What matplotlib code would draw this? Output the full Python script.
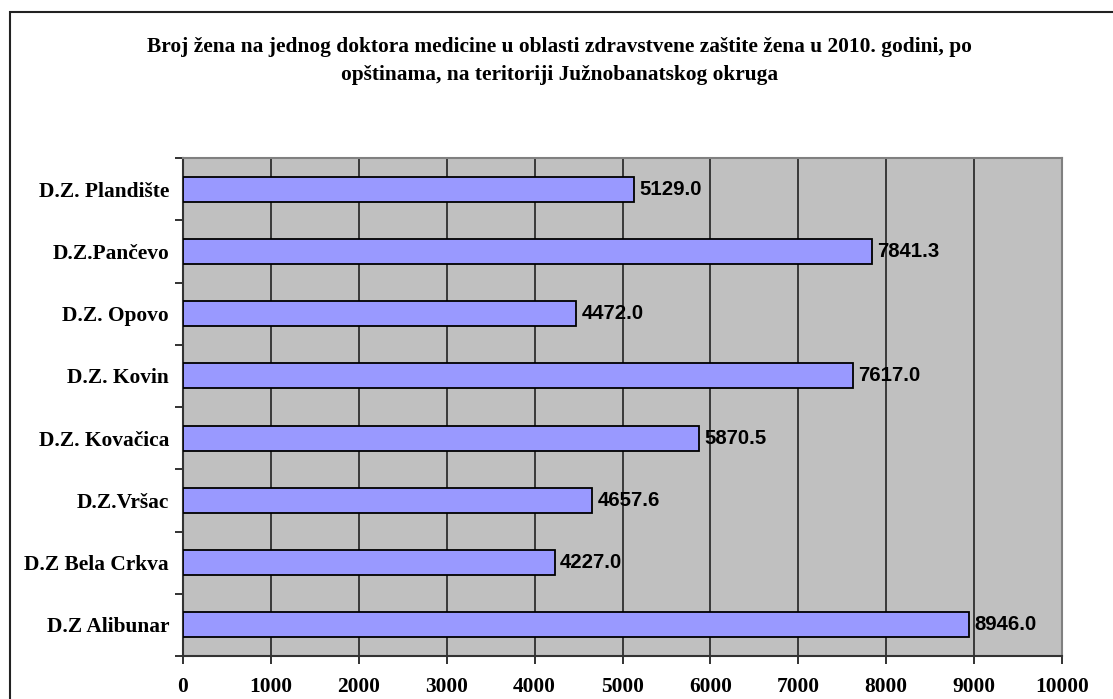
import numpy as np
import matplotlib
matplotlib.use("Agg")
import matplotlib.pyplot as plt
from matplotlib.patches import Rectangle

# Data (bottom to top as drawn)
categories = ["D.Z Alibunar", "D.Z Bela Crkva", "D.Z.Vršac", "D.Z. Kovačica",
              "D.Z. Kovin", "D.Z. Opovo", "D.Z.Pančevo", "D.Z. Plandište"]
values = [8946.0, 4227.0, 4657.6, 5870.5, 7617.0, 4472.0, 7841.3, 5129.0]
x_ticks = [0, 1000, 2000, 3000, 4000, 5000, 6000, 7000, 8000, 9000, 10000]

title = ("Broj žena na jednog doktora medicine u oblasti zdravstvene zaštite žena u 2010. godini, po\n"
         "opštinama, na teritoriji Južnobanatskog okruga")

serif = "Liberation Serif"
sans = "Liberation Sans"
fs = 15.4

fig = plt.figure(figsize=(11.13, 6.99), dpi=100)
fig.patch.set_facecolor("white")

# outer chart border (only top and left are inside the picture)
fig.patches.append(Rectangle((10 / 1113, -0.05), 1.2, 1 - 12 / 699 + 0.05,
                             transform=fig.transFigure, fill=False,
                             edgecolor="#222222", linewidth=1.5))

ax = fig.add_axes([183 / 1113, 1 - 656 / 699, (1062 - 183) / 1113, (656 - 158) / 699])
ax.set_facecolor("#C0C0C0")

y = np.arange(len(categories))
ax.barh(y, values, height=0.4, color="#9999FF", edgecolor="black", linewidth=1.3, zorder=3)

for yi, v in zip(y, values):
    ax.text(v + 60, yi, f"{v:.1f}", va="center", ha="left", fontsize=14.7,
            fontweight="bold", family=sans, zorder=4)

ax.set_xlim(0, 10000)
ax.set_ylim(-0.5, len(categories) - 0.5)
ax.set_xticks(x_ticks)
ax.set_xticklabels([str(t) for t in x_ticks], fontsize=fs, fontweight="bold", family=serif)
ax.set_yticks(y)
ax.set_yticklabels(categories, fontsize=fs, fontweight="bold", family=serif)
ax.tick_params(axis="y", length=0, pad=10)
ax.set_yticks(np.arange(-0.5, len(categories)), minor=True)
ax.tick_params(axis="y", which="minor", length=6, width=1.3, color="#222222", direction="out")
ax.tick_params(axis="x", length=6, width=1.3, color="#222222", direction="out", pad=9)

ax.grid(axis="x", color="#222222", linewidth=1.2, zorder=1)
ax.set_axisbelow(True)

for side in ["left", "bottom"]:
    ax.spines[side].set_color("#333333")
    ax.spines[side].set_linewidth(1.5)
for side in ["top", "right"]:
    ax.spines[side].set_color("#808080")
    ax.spines[side].set_linewidth(1.5)

fig.text(0.503, 1 - 61 / 699, title, ha="center", va="center", fontsize=fs,
         fontweight="bold", family=serif, linespacing=1.5)

fig.savefig("out.png", dpi=100)
